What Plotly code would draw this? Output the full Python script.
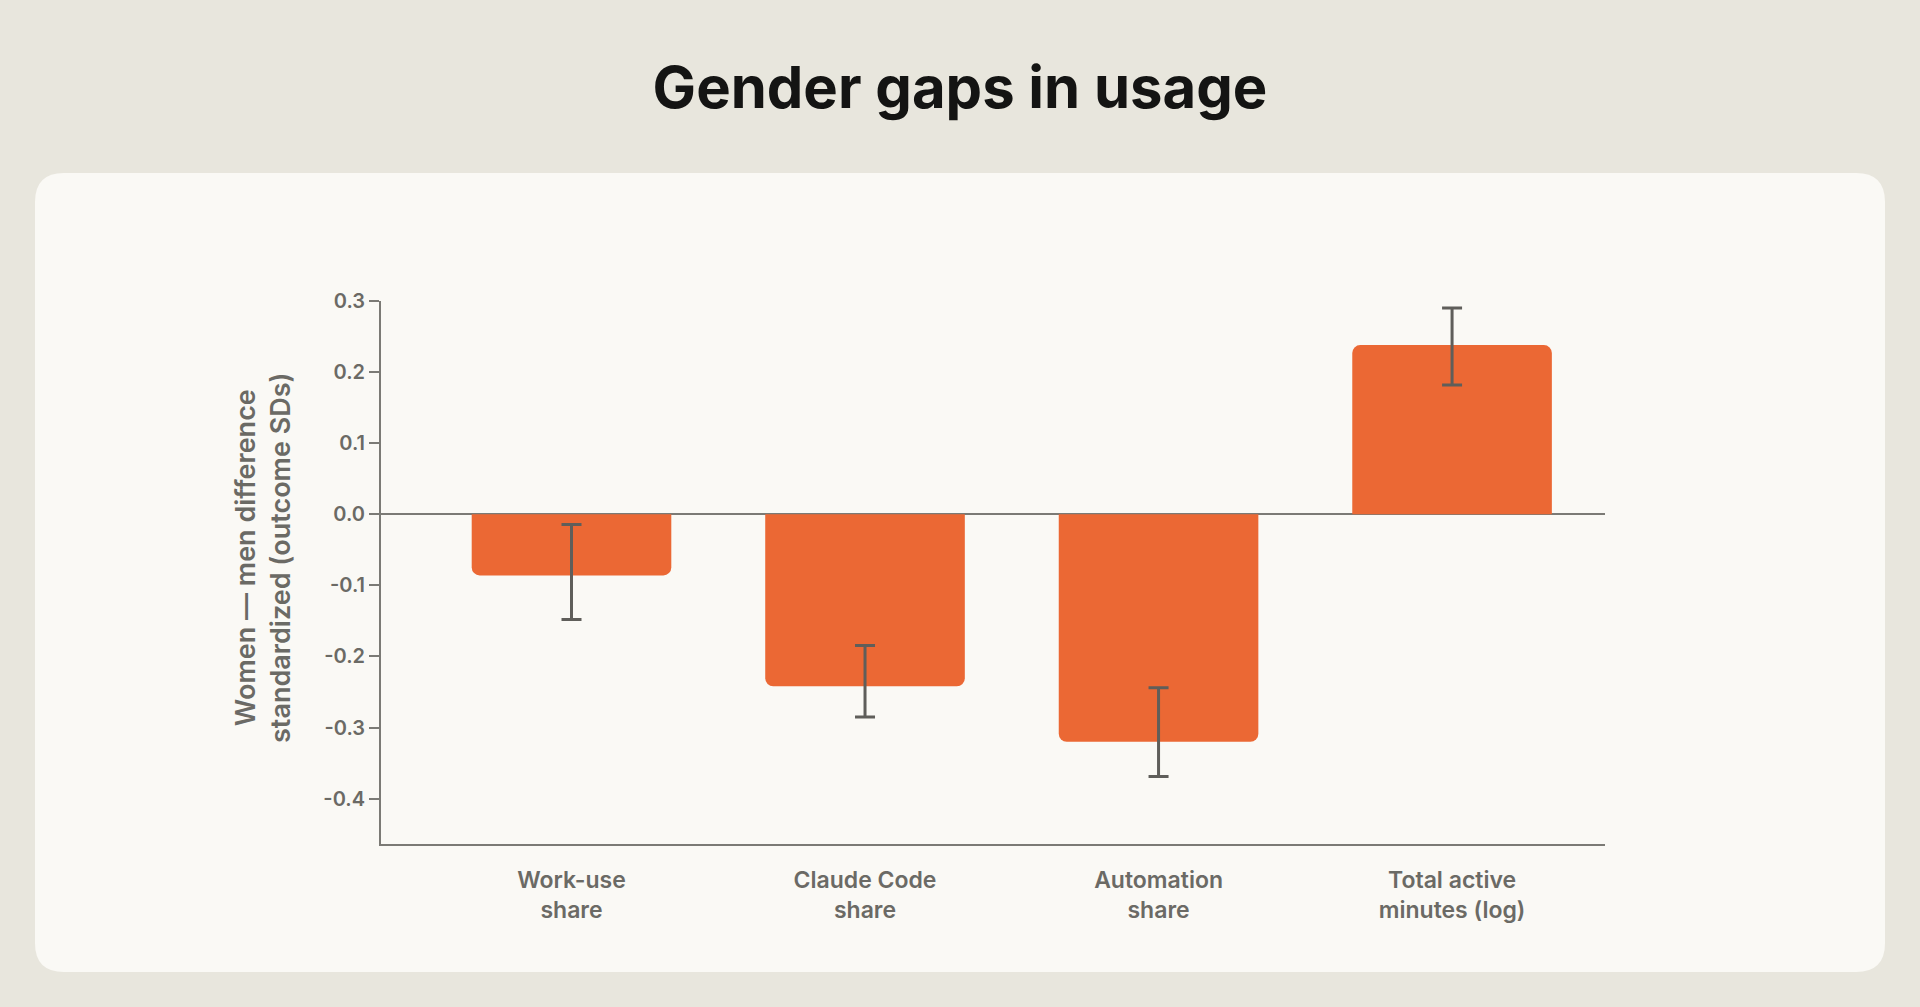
import plotly.graph_objects as go

# datos
categorias = ["Work-use<br>share", "Claude Code<br>share",
              "Automation<br>share", "Total active<br>minutes (log)"]
diferencia = [-0.086, -0.242, -0.320, 0.238]
ic_bajo = [-0.148, -0.285, -0.369, 0.182]
ic_alto = [-0.0145, -0.1845, -0.244, 0.290]

y_ticks = [-0.4, -0.3, -0.2, -0.1, 0.0, 0.1, 0.2, 0.3]
y_labels = ["-0.4", "-0.3", "-0.2", "-0.1", "0.0", "0.1", "0.2", "0.3"]

err_mas = [h - d for h, d in zip(ic_alto, diferencia)]
err_menos = [d - l for l, d in zip(ic_bajo, diferencia)]

FONDO = "#e8e6dd"
TARJETA = "#faf9f5"
NARANJA = "#eb6834"
GRIS = "#6b6a65"
EJE = "#7b7a75"

W, H = 1920, 1007
ML, MR, MT, MB = 381, 315, 301, 163
pw, ph = W - ML - MR, H - MT - MB


def px(x):
    return (x - ML) / pw


def py(y):
    return (H - MB - y) / ph


def tarjeta(x0, y0, x1, y1, r):
    # rectangulo redondeado en coordenadas paper
    rx, ry = r / pw, r / ph
    a, b, c, d = px(x0), px(x1), py(y1), py(y0)
    return (f"M {a+rx} {d} L {b-rx} {d} Q {b} {d} {b} {d-ry} "
            f"L {b} {c+ry} Q {b} {c} {b-rx} {c} "
            f"L {a+rx} {c} Q {a} {c} {a} {c+ry} "
            f"L {a} {d-ry} Q {a} {d} {a+rx} {d} Z")


fig = go.Figure()
fig.add_trace(go.Bar(
    x=categorias, y=diferencia, width=0.68,
    marker=dict(color=NARANJA, cornerradius=8, line=dict(width=0)),
    error_y=dict(type="data", symmetric=False, array=err_mas,
                 arrayminus=err_menos, color="#5f5e5a",
                 thickness=3, width=10),
    hoverinfo="skip",
))

fig.add_shape(type="path", path=tarjeta(35, 173, 1885, 972, 29),
              xref="paper", yref="paper", fillcolor=TARJETA,
              line=dict(width=0), layer="below")

fig.add_annotation(text="Women — men difference<br>standardized (outcome SDs)",
                   textangle=-90, xref="paper", yref="paper",
                   x=px(263), y=py(558), xanchor="center", yanchor="middle",
                   showarrow=False,
                   font=dict(family="Inter", size=27, color=GRIS, weight=600))

fig.update_layout(
    width=W, height=H,
    paper_bgcolor=FONDO, plot_bgcolor="rgba(0,0,0,0)",
    margin=dict(l=ML, r=MR, t=MT, b=MB),
    showlegend=False,
    title=dict(text="<b>Gender gaps in usage</b>", x=0.5, xanchor="center",
               y=1 - 88 / H, yanchor="middle",
               font=dict(family="Inter", size=58, color="#141413")),
    font=dict(family="Inter", color=GRIS),
)
fig.update_xaxes(range=[-0.649, 3.521], showgrid=False, ticks="",
                 showline=True, linecolor=EJE, linewidth=2,
                 tickfont=dict(size=23, color=GRIS, weight=600),
                 ticklabelstandoff=14)
fig.update_yaxes(range=[-0.4638, 0.3], tickvals=y_ticks, ticktext=y_labels,
                 showgrid=False, ticks="outside", ticklen=10, tickwidth=2,
                 tickcolor=EJE, showline=True, linecolor=EJE, linewidth=2,
                 zeroline=True, zerolinecolor=EJE, zerolinewidth=2,
                 tickfont=dict(size=20, color=GRIS, weight=600))

fig.write_html("out.html", config={"displayModeBar": False},
               post_script="document.body.style.margin='0';")
